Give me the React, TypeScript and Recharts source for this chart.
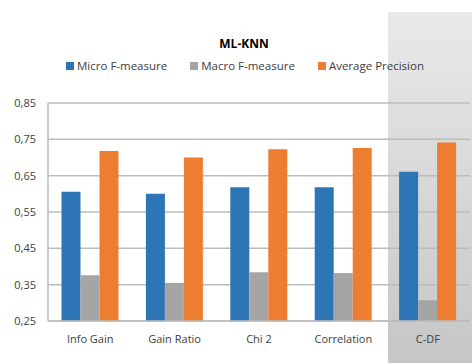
import { BarChart, Bar, XAxis, YAxis, CartesianGrid, Legend } from 'recharts';

const methods = ['Info Gain', 'Gain Ratio', 'Chi 2', 'Correlation', 'C-DF'];
const microF = [0.606, 0.6, 0.618, 0.618, 0.661];
const macroF = [0.376, 0.355, 0.384, 0.382, 0.307];
const avgPrecision = [0.718, 0.7, 0.723, 0.726, 0.741];
const yTicks = [0.25, 0.35, 0.45, 0.55, 0.65, 0.75, 0.85];

const seriesList = [
  { key: 'micro', name: 'Micro F-measure', color: '#2E75B6' },
  { key: 'macro', name: 'Macro F-measure', color: '#A5A5A5' },
  { key: 'avg', name: 'Average Precision', color: '#ED7D31' },
];

const data = methods.map((m, i) => ({
  method: m,
  micro: microF[i],
  macro: macroF[i],
  avg: avgPrecision[i],
}));

const font = '"Open Sans", sans-serif';

function LegendBox() {
  return (
    <div style={{ display: 'flex', justifyContent: 'center', gap: 23, paddingLeft: 20, fontFamily: font, fontSize: 11.5, color: '#404040' }}>
      {seriesList.map((s) => (
        <div key={s.key} style={{ display: 'flex', alignItems: 'center' }}>
          <span style={{ width: 8, height: 8, background: s.color, marginRight: 3, display: 'inline-block' }} />
          {s.name}
        </div>
      ))}
    </div>
  );
}

export default function App() {
  return (
    <div style={{ position: 'absolute', left: 0, top: 0, width: 472, height: 363, background: '#fff' }}>
      {/* highlighted C-DF column */}
      <div
        style={{
          position: 'absolute',
          left: 388,
          top: 12,
          width: 84,
          height: 351,
          background: 'linear-gradient(#e9e9e9, #c6c6c6)',
        }}
      />
      <div
        style={{
          position: 'absolute',
          top: 35,
          width: 472,
          left: 8,
          textAlign: 'center',
          fontFamily: font,
          fontWeight: 'bold',
          fontSize: 12,
          color: '#000',
        }}
      >
        ML-KNN
      </div>
      <BarChart
        width={472}
        height={363}
        data={data}
        margin={{ top: 88, right: 2, bottom: 12, left: 0 }}
        barCategoryGap="16%"
        barGap={0}
        style={{ position: 'absolute', left: 0, top: 0 }}
      >
        <CartesianGrid vertical={false} stroke="#bcbcbc" strokeWidth={1.5} />
        <XAxis
          dataKey="method"
          height={30}
          tickLine={false}
          axisLine={{ stroke: '#bcbcbc', strokeWidth: 1.5 }}
          tick={{ fill: '#404040', fontSize: 11, fontFamily: font }}
          tickMargin={8}
        />
        <YAxis
          width={48}
          domain={[0.25, 0.85]}
          ticks={yTicks}
          tickLine={false}
          axisLine={{ stroke: '#bcbcbc', strokeWidth: 1.5 }}
          tick={{ fill: '#404040', fontSize: 11, fontFamily: font }}
          tickFormatter={(v: number) => v.toFixed(2).replace('.', ',')}
          tickMargin={6}
        />
        <Legend verticalAlign="top" wrapperStyle={{ top: 58 }} content={() => <LegendBox />} />
        {seriesList.map((s) => (
          <Bar key={s.key} dataKey={s.key} name={s.name} fill={s.color} isAnimationActive={false} />
        ))}
      </BarChart>
    </div>
  );
}
